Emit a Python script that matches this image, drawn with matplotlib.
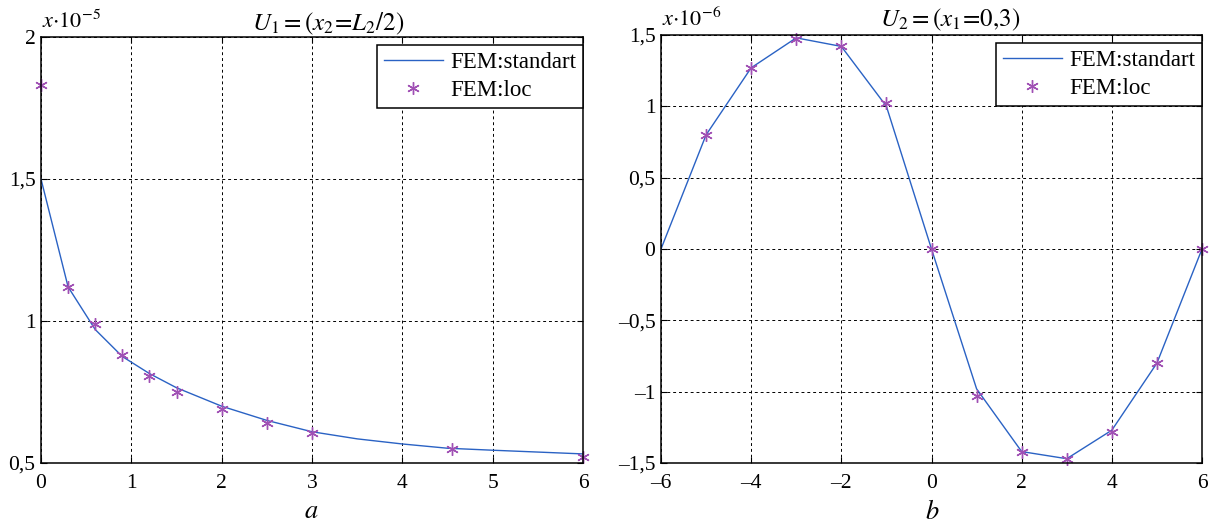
import matplotlib
matplotlib.use("Agg")
import matplotlib.pyplot as plt
from matplotlib.ticker import FixedLocator, FixedFormatter

# ---- data ----
a_line_x = [0, 0.3, 0.6, 0.9, 1.2, 1.5, 2.0, 2.5, 3.0, 3.5, 4.0, 4.5, 5.0, 6.0]
a_line_y = [1.5, 1.12, 0.97, 0.875, 0.815, 0.765, 0.70, 0.65, 0.61, 0.585, 0.567, 0.552, 0.545, 0.532]
a_star_x = [0, 0.3, 0.6, 0.9, 1.2, 1.5, 2.0, 2.5, 3.0, 4.55, 6.0]
a_star_y = [1.83, 1.12, 0.99, 0.88, 0.805, 0.75, 0.69, 0.64, 0.605, 0.55, 0.52]

b_line_x = [-6, -5, -4, -3, -2, -1, 0, 1, 2, 3, 4, 5, 6]
b_line_y = [0, 0.8, 1.27, 1.48, 1.42, 1.0, 0, -0.98, -1.42, -1.47, -1.27, -0.8, 0]
b_star_x = [-5, -4, -3, -2, -1, 0, 1, 2, 3, 4, 5, 6]
b_star_y = [0.8, 1.27, 1.47, 1.42, 1.02, 0, -1.03, -1.42, -1.47, -1.28, -0.8, 0]

a_xticks = [0, 1, 2, 3, 4, 5, 6]
a_xlabels = ["0", "1", "2", "3", "4", "5", "6"]
a_yticks = [0.5, 1.0, 1.5, 2.0]
a_ylabels = ["0,5", "1", "1,5", "2"]
b_xticks = [-6, -4, -2, 0, 2, 4, 6]
b_xlabels = ["\u20136", "\u20134", "\u20132", "0", "2", "4", "6"]
b_yticks = [-1.5, -1.0, -0.5, 0, 0.5, 1.0, 1.5]
b_ylabels = ["\u20131,5", "\u20131", "\u20130,5", "0", "0,5", "1", "1,5"]

plt.rcParams['font.family'] = ['Liberation Serif', 'DejaVu Serif']
plt.rcParams['mathtext.fontset'] = 'stix'

LINE_C = '#2a62c4'
STAR_C = '#a050b4'
FS = 15.5

W, H = 1218, 524
fig = plt.figure(figsize=(W/100, H/100), dpi=100)
axA = fig.add_axes([41/W, 1-463/H, (583-41)/W, (463-37)/H])
axB = fig.add_axes([661/W, 1-463/H, (1202-661)/W, (463-35)/H])

def style(ax, xt, xl, yt, yl):
    ax.xaxis.set_major_locator(FixedLocator(xt))
    ax.xaxis.set_major_formatter(FixedFormatter(xl))
    ax.yaxis.set_major_locator(FixedLocator(yt))
    ax.yaxis.set_major_formatter(FixedFormatter(yl))
    ax.tick_params(direction='in', top=True, right=True, length=4, width=0.8,
                   labelsize=FS)
    ax.tick_params(axis='x', pad=8)
    ax.tick_params(axis='y', pad=4)
    ax.grid(True, color='black', linestyle=(0, (3, 3)), linewidth=0.7)
    for s in ax.spines.values():
        s.set_linewidth(1.1)

axA.plot(a_line_x, a_line_y, color=LINE_C, lw=1.0, label='FEM:standart')
axA.plot(a_star_x, a_star_y, linestyle='none', marker=(6, 2, 0), markersize=9,
         color=STAR_C, markeredgewidth=1.0, label='FEM:loc', clip_on=False)
axA.set_xlim(0, 6)
axA.set_ylim(0.5, 2.0)
style(axA, a_xticks, a_xlabels, a_yticks, a_ylabels)

axB.plot(b_line_x, b_line_y, color=LINE_C, lw=1.0, label='FEM:standart')
axB.plot(b_star_x, b_star_y, linestyle='none', marker=(6, 2, 0), markersize=9,
         color=STAR_C, markeredgewidth=1.0, label='FEM:loc', clip_on=False)
axB.set_xlim(-6, 6)
axB.set_ylim(-1.5, 1.5)
style(axB, b_xticks, b_xlabels, b_yticks, b_ylabels)

for ax in (axA, axB):
    hpx = ax.get_position().height * H
    leg = ax.legend(loc='upper right', bbox_to_anchor=(1.0, 1 - 8/hpx),
                    fontsize=16.5, fancybox=False, framealpha=1,
                    edgecolor='black', borderaxespad=0.0, handlelength=2.6,
                    handletextpad=0.3, labelspacing=0.3, borderpad=0.3)
    leg.get_frame().set_linewidth(1.1)

fig.text(328/W, 1-24/H, r'$U_1 = (x_2\!=\!L_2/2)$', fontsize=18, ha='center', va='center')
fig.text(950/W, 1-20/H, r'$U_2 = (x_1\!=\!0{,}3)$', fontsize=18, ha='center', va='center')
fig.text(42/W, 1-28/H, r'$x{\cdot}\mathrm{10}^{-5}$', fontsize=16, ha='left', va='baseline')
fig.text(662/W, 1-26/H, r'$x{\cdot}\mathrm{10}^{-6}$', fontsize=16, ha='left', va='baseline')

fig.text(311/W, 1-512/H, r'$a$', fontsize=19, ha='center', va='center')
fig.text(932/W, 1-512/H, r'$b$', fontsize=19, ha='center', va='center')

fig.savefig('out.png', dpi=100)
